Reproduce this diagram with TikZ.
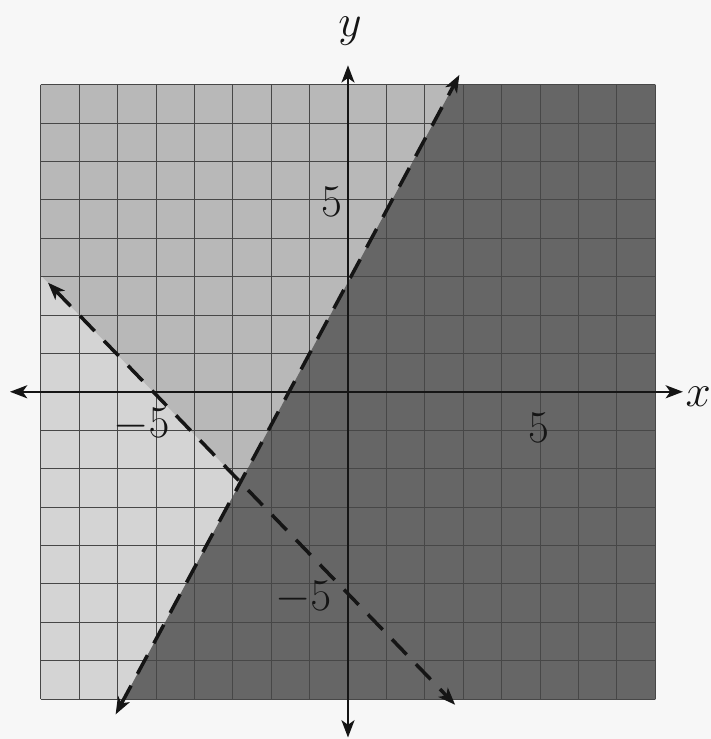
\documentclass[tikz,border=0pt]{standalone}
\usepackage{xcolor}
\usepackage{tikz}
\usetikzlibrary{arrows.meta,calc}
\definecolor{paper}{HTML}{F7F7F7}
\definecolor{shadelight}{HTML}{D4D4D4}
\definecolor{shademid}{HTML}{B8B8B8}
\definecolor{shadedark}{HTML}{666666}
\definecolor{gridgray}{HTML}{474747}
\definecolor{ink}{HTML}{151515}
\tikzset{
  gridline/.style={draw=gridgray, line width=0.6pt},
  axisline/.style={{Stealth[length=0.45cm, width=0.34cm, inset=0.12cm]}-{Stealth[length=0.45cm, width=0.34cm, inset=0.12cm]},
    draw=ink, line width=1.6pt},
  boundline/.style={{Stealth[length=0.45cm, width=0.34cm, inset=0.12cm]}-{Stealth[length=0.45cm, width=0.34cm, inset=0.12cm]},
    draw=ink, line width=2.6pt, dash pattern=on 0.55cm off 0.35cm},
  ticklabel/.style={font=\Huge, scale=1.35, text=ink, inner sep=0pt},
}

\begin{document}
\begin{tikzpicture}[x=1cm, y=1cm]

% page and proportions
\fill[paper] (-9.06,-9.04) rectangle (9.45,10.2);
\useasboundingbox (-9.06,-9.04) rectangle (9.45,10.2);

% end points of the two boundary lines
\coordinate (steep-lo) at (-6.05,-8.4);
\coordinate (steep-hi) at (2.9,8.25);
\coordinate (desc-hi) at (-7.81,2.84);
\coordinate (desc-lo) at (2.79,-8.15);

% shaded regions
\fill[shadelight] (-8,-8) rectangle (8,8);
\begin{scope}
  \clip (-8,-8) rectangle (8,8);
  \fill[shademid] ($(desc-hi)!-1!(desc-lo)$) -- ($(desc-lo)!-1!(desc-hi)$)
    -- (20,-20) -- (20,20) -- (-20,20) -- cycle;
  \fill[shadedark] ($(steep-lo)!-1!(steep-hi)$) -- ($(steep-hi)!-1!(steep-lo)$)
    -- (20,20) -- (20,-20) -- cycle;
\end{scope}

% grid
\draw[gridline] (-8,-8) grid (8,8);

% axes
\coordinate (x-lo) at (-8.8,0);
\coordinate (x-hi) at (8.72,0);
\coordinate (y-lo) at (0,-9.0);
\coordinate (y-hi) at (0,8.5);
\draw[axisline] (x-lo) -- (x-hi);
\draw[axisline] (y-lo) -- (y-hi);
\node[ticklabel] (x-name) at (9.12,-0.12) {$x$};
\node[ticklabel] (y-name) at (0.05,9.4) {$y$};

% boundary lines
\draw[boundline] (steep-lo) -- (steep-hi);
\draw[boundline] (desc-hi) -- (desc-lo);

% tick labels
\node[ticklabel] (x-neg) at (-5.38,-0.85) {$-5$};
\node[ticklabel] (x-pos) at (4.98,-0.95) {5};
\node[ticklabel] (y-pos) at (-0.42,4.95) {5};
\node[ticklabel] (y-neg) at (-1.17,-5.36) {$-5$};

\end{tikzpicture}
\end{document}
